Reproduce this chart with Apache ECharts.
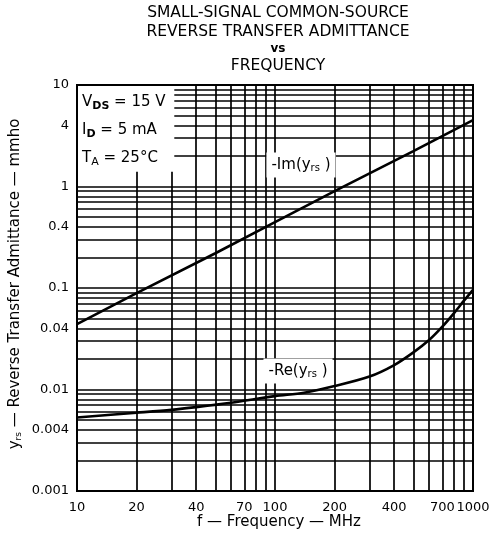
<!DOCTYPE html>
<html><head><meta charset="utf-8">
<script src="https://cdn.jsdelivr.net/npm/echarts@6/dist/echarts.min.js"></script>
<style>html,body{margin:0;padding:0;background:#fff}#c{width:495px;height:534px}</style>
</head><body><div id="c"></div>
<script>
// ---- data ----
const xTickLabels = [10, 20, 40, 70, 100, 200, 400, 700, 1000];
const yTickLabels = [0.001, 0.004, 0.01, 0.04, 0.1, 0.4, 1, 4, 10];
const imFreq = [10, 20, 50, 100, 200, 500, 1000];
const imVals = [0.044, 0.089, 0.22, 0.445, 0.9, 2.23, 4.5];
const reFreq = [10, 20, 30, 40, 60, 100, 140, 200, 300, 400, 500, 600, 700, 800, 900, 1000];
const reVals = [0.0053, 0.0059, 0.0063, 0.0067, 0.0074, 0.0086, 0.0093, 0.0108, 0.0134, 0.0174, 0.0232, 0.0307, 0.0416, 0.0563, 0.075, 0.096];

const FONT = 'DejaVu Sans';
// grid line values (1..9 x 10^n)
function logGrid(lo, hi) {
  const out = [];
  for (let e = lo; e < hi; e++) for (let m = 1; m <= 9; m++) out.push(+(m * Math.pow(10, e)).toPrecision(3));
  out.push(+Math.pow(10, hi).toPrecision(3));
  return out;
}
const xGrid = logGrid(1, 3);
const yGrid = logGrid(-3, 1);
const lineStyle = { color: '#000', width: 1.7, type: 'solid' };
const gridMarks = [];
xGrid.forEach(v => {
  const top = (v === 20 || v === 30) ? 1.4 : 10;
  gridMarks.push([{ coord: [v, 0.001] }, { coord: [v, top] }]);
});
yGrid.forEach(v => {
  const left = (v > 1.4 && v < 10) ? 31 : 10;
  gridMarks.push([{ coord: [left, v] }, { coord: [1000, v] }]);
});
const tickMarks = [];
yGrid.filter(v => v > 1.4 && v < 10).forEach(v => tickMarks.push([{ coord: [10, v] }, { coord: [10.8, v] }]));
[20, 30].forEach(v => tickMarks.push([{ coord: [v, 10] }, { coord: [v, 8.8] }]));

const fmt = v => String(+(+v).toPrecision(3));
const chart = echarts.init(document.getElementById('c'), null, { renderer: 'canvas' });
chart.setOption({
  animation: false,
  backgroundColor: '#fff',
  textStyle: { fontFamily: FONT },
  grid: { left: 77, right: 22, top: 85, bottom: 43, show: true, borderColor: '#000', borderWidth: 2, backgroundColor: 'transparent' },
  xAxis: {
    type: 'log', logBase: 10, min: 10, max: 1000,
    axisLine: { show: false }, axisTick: { show: false }, splitLine: { show: false },
    axisLabel: { customValues: xTickLabels, formatter: fmt, color: '#000', fontSize: 13, fontFamily: FONT, margin: 10 }
  },
  yAxis: {
    type: 'log', logBase: 10, min: 0.001, max: 10,
    axisLine: { show: false }, axisTick: { show: false }, splitLine: { show: false },
    axisLabel: { customValues: yTickLabels, formatter: fmt, color: '#000', fontSize: 13, fontFamily: FONT, margin: 8 }
  },
  series: [
    { type: 'line', data: [], silent: true, z: 2,
      markLine: { silent: true, symbol: 'none', label: { show: false }, lineStyle: lineStyle, data: gridMarks, animation: false } },
    { type: 'line', data: [], silent: true, z: 60,
      markLine: { silent: true, symbol: 'none', label: { show: false }, lineStyle: lineStyle, data: tickMarks, animation: false } },
    { name: '-Im', type: 'line', data: imFreq.map((f, i) => [f, imVals[i]]), showSymbol: false, smooth: false,
      lineStyle: { color: '#000', width: 2.6 }, z: 70 },
    { name: '-Re', type: 'line', data: reFreq.map((f, i) => [f, reVals[i]]), showSymbol: false, smooth: 0.3,
      lineStyle: { color: '#000', width: 2.6 }, z: 70 }
  ],
  graphic: { elements: [
    { type: 'rect', z: 50, shape: { x: 78, y: 86, width: 96, height: 85 }, style: { fill: '#fff' } },
    { type: 'text', z: 80, x: 82, y: 102, style: { text: 'V{s|DS} = 15 V', fontSize: 15, fontFamily: FONT, fill: '#000', verticalAlign: 'middle',
        rich: { s: { fontSize: 11, fontFamily: FONT, fontWeight: 'bold', padding: [8, 0, 0, 0] } } } },
    { type: 'text', z: 80, x: 82, y: 130, style: { text: 'I{s|D} = 5 mA', fontSize: 15, fontFamily: FONT, fill: '#000', verticalAlign: 'middle',
        rich: { s: { fontSize: 11, fontFamily: FONT, fontWeight: 'bold', padding: [8, 0, 0, 0] } } } },
    { type: 'text', z: 80, x: 82, y: 158, style: { text: 'T{s|A} = 25°C', fontSize: 15, fontFamily: FONT, fill: '#000', verticalAlign: 'middle',
        rich: { s: { fontSize: 11, fontFamily: FONT, padding: [8, 0, 0, 0] } } } },
    { type: 'text', z: 80, x: 301, y: 165, style: { text: '-Im(y{s|rs} )', fontSize: 15, fontFamily: FONT, fill: '#000', align: 'center', verticalAlign: 'middle',
        backgroundColor: '#fff', padding: [4, 5, 4, 5], rich: { s: { fontSize: 10, fontFamily: FONT, padding: [7, 0, 0, 0] } } } },
    { type: 'text', z: 80, x: 298, y: 371, style: { text: '-Re(y{s|rs} )', fontSize: 15, fontFamily: FONT, fill: '#000', align: 'center', verticalAlign: 'middle',
        backgroundColor: '#fff', padding: [4, 5, 4, 5], rich: { s: { fontSize: 10, fontFamily: FONT, padding: [7, 0, 0, 0] } } } },
    { type: 'text', z: 80, x: 278, y: 13, style: { text: 'SMALL-SIGNAL COMMON-SOURCE', fontSize: 15.5, fontFamily: FONT, fill: '#000', align: 'center', verticalAlign: 'middle' } },
    { type: 'text', z: 80, x: 278, y: 32, style: { text: 'REVERSE TRANSFER ADMITTANCE', fontSize: 15.5, fontFamily: FONT, fill: '#000', align: 'center', verticalAlign: 'middle' } },
    { type: 'text', z: 80, x: 278, y: 49, style: { text: 'vs', fontSize: 12, fontWeight: 'bold', fontFamily: FONT, fill: '#000', align: 'center', verticalAlign: 'middle' } },
    { type: 'text', z: 80, x: 278, y: 66, style: { text: 'FREQUENCY', fontSize: 15.5, fontFamily: FONT, fill: '#000', align: 'center', verticalAlign: 'middle' } },
    { type: 'text', z: 80, x: 279, y: 522, style: { text: 'f — Frequency — MHz', fontSize: 15, fontFamily: FONT, fill: '#000', align: 'center', verticalAlign: 'middle' } },
    { type: 'text', z: 80, x: 15, y: 284, rotation: Math.PI / 2, style: { text: 'y{s|rs} — Reverse Transfer Admittance — mmho', fontSize: 15, fontFamily: FONT, fill: '#000', align: 'center', verticalAlign: 'middle',
        rich: { s: { fontSize: 9, fontFamily: FONT, padding: [7, 0, 0, 0] } } } }
  ] }
});
</script></body></html>
